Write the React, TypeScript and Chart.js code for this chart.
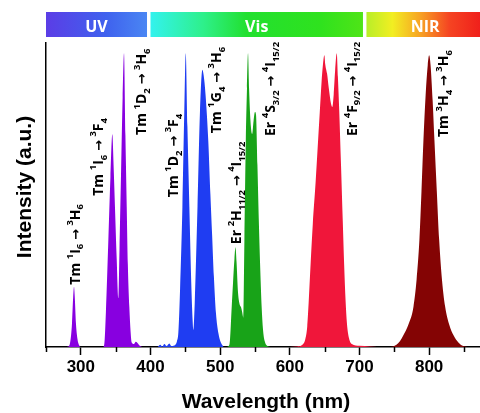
import React, { useEffect, useRef } from "react";
import { Chart, registerables } from "chart.js";

Chart.register(...registerables);

// ---------- data (wavelength in nm, intensity normalised) ----------
const tmUvWavelength = [280, 283.5, 286, 287.3, 289, 290.2, 291.3, 293, 295, 297.8, 300, 332, 333.7, 336, 339.5, 342.5, 345.2, 347, 349, 351.5, 353.8, 355.5, 357.7, 360, 362, 364, 365.9, 367.5, 369.6, 371.5, 373, 376, 379, 382, 385, 388];
const tmUvIntensity = [0, 0.005, 0.04, 0.08, 0.17, 0.205, 0.17, 0.08, 0.03, 0.005, 0, 0, 0.01, 0.12, 0.364, 0.58, 0.724, 0.62, 0.477, 0.3, 0.166, 0.33, 0.59, 0.85, 1.0, 0.72, 0.477, 0.28, 0.137, 0.05, 0.015, 0.01, 0.018, 0.012, 0.003, 0];

const tmBlueWavelength = [410, 414, 417, 420, 423, 427, 430, 434, 438, 440, 442.5, 445.8, 448.5, 450.6, 453, 455.8, 458.5, 460.5, 461.5, 463.5, 467.5, 471, 474.5, 476.3, 479, 483, 486, 488.5, 491, 494, 497.5, 501, 505];
const tmBlueIntensity = [0, 0.008, 0.002, 0.01, 0.003, 0.012, 0.003, 0.005, 0.02, 0.05, 0.2, 0.477, 0.8, 1.0, 0.75, 0.477, 0.22, 0.09, 0.058, 0.15, 0.48, 0.8, 0.944, 0.925, 0.86, 0.7, 0.52, 0.38, 0.24, 0.115, 0.047, 0.015, 0];

const erGreenWavelength = [510, 513.5, 516.6, 518.5, 520.5, 522, 523.5, 525.5, 527.5, 530, 531.5, 533.3, 534.8, 536.8, 538.5, 540, 541.5, 543.5, 546, 548, 550, 551.5, 553.5, 555.5, 557.5, 559.5, 561.5, 564, 567, 572];
const erGreenIntensity = [0, 0.01, 0.137, 0.22, 0.3, 0.34, 0.29, 0.19, 0.15, 0.135, 0.12, 0.1, 0.36, 0.7, 0.88, 1.0, 0.88, 0.77, 0.725, 0.77, 0.8, 0.79, 0.62, 0.43, 0.27, 0.14, 0.06, 0.02, 0.005, 0];

const erRedWavelength = [600, 610, 618, 622, 625, 627, 630, 633, 637, 640, 643, 645.5, 647.5, 649.6, 651, 653.5, 656, 659, 661, 663, 665, 667.4, 669, 671, 673.5, 676, 678, 680, 682, 685, 689, 700, 715, 725];
const erRedIntensity = [0, 0.002, 0.008, 0.025, 0.07, 0.15, 0.29, 0.42, 0.56, 0.68, 0.8, 0.9, 0.96, 0.993, 0.96, 0.93, 0.88, 0.83, 0.817, 0.86, 0.94, 1.0, 0.92, 0.8, 0.62, 0.43, 0.28, 0.16, 0.08, 0.03, 0.01, 0.004, 0.002, 0];

const tmNirWavelength = [740, 748, 753, 758, 763, 770, 777.5, 782, 786, 789, 791.8, 795, 798, 800, 802, 805, 807.6, 811, 814.4, 818, 823, 829, 835, 842, 848, 855];
const tmNirIntensity = [0, 0.002, 0.008, 0.02, 0.04, 0.075, 0.137, 0.23, 0.364, 0.53, 0.704, 0.86, 0.96, 0.993, 0.96, 0.84, 0.704, 0.53, 0.364, 0.24, 0.137, 0.075, 0.04, 0.015, 0.004, 0];

const xTickValues = [250, 300, 350, 400, 450, 500, 550, 600, 650, 700, 750, 800, 850];

const bandNames = ["UV", "Vis", "NIR"];
const bandStart = [250, 400, 710];
const bandEnd = [395, 705, 880];

const transitionTexts = [
  "Tm ^{1}I_{6} → ^{3}H_{6}",
  "Tm ^{1}I_{6} → ^{3}F_{4}",
  "Tm ^{1}D_{2} → ^{3}H_{6}",
  "Tm ^{1}D_{2} → ^{3}F_{4}",
  "Tm ^{1}G_{4} → ^{3}H_{6}",
  "Er ^{2}H_{11/2} → ^{4}I_{15/2}",
  "Er ^{4}S_{3/2} → ^{4}I_{15/2}",
  "Er ^{4}F_{9/2} → ^{4}I_{15/2}",
  "Tm ^{3}H_{4} → ^{3}H_{6}",
];
const transitionWavelength = [291, 324.7, 387, 432.5, 494.1, 522.8, 571.7, 689, 820.5];
const transitionIntensity = [0.212, 0.515, 0.722, 0.51, 0.728, 0.35, 0.718, 0.718, 0.715];

// ---------- helpers ----------
const toPoints = (xs: number[], ys: number[]) => xs.map((x, i) => ({ x, y: ys[i] }));

type Part = { t: string; k: "n" | "sup" | "sub" };
function parseRich(s: string): Part[] {
  const out: Part[] = [];
  const re = /\^\{([^}]*)\}|_\{([^}]*)\}|([^^_]+)/g;
  let m: RegExpExecArray | null;
  while ((m = re.exec(s))) {
    if (m[1] !== undefined) out.push({ t: m[1], k: "sup" });
    else if (m[2] !== undefined) out.push({ t: m[2], k: "sub" });
    else out.push({ t: m[3], k: "n" });
  }
  return out;
}

const bandGradients: [number, string][][] = [
  [[0, "#5b3de6"], [0.6, "#3f62ee"], [1, "#4a86f3"]],
  [[0, "#33f2ee"], [0.25, "#2ef08a"], [0.45, "#22e030"], [0.8, "#2fe21e"], [1, "#4fe417"]],
  [[0, "#b8ee28"], [0.22, "#f2ee22"], [0.45, "#f7a424"], [0.7, "#f54422"], [1, "#ef1a1a"]],
];

const MAIN_FONT = "bold 14px 'Open Sans', 'DejaVu Sans', sans-serif";
const SMALL_FONT = "bold 9.5px 'Open Sans', 'DejaVu Sans', sans-serif";
const ARROW_FONT = "bold 13px 'DejaVu Sans', sans-serif";

const overlayPlugin = {
  id: "overlay",
  afterDraw(chart: any) {
    const ctx: CanvasRenderingContext2D = chart.ctx;
    const xs = chart.scales.x;
    const ys = chart.scales.y;
    const area = chart.chartArea;

    // spectral region bars
    bandNames.forEach((name, i) => {
      const x0 = xs.getPixelForValue(bandStart[i]);
      const x1 = xs.getPixelForValue(bandEnd[i]);
      const g = ctx.createLinearGradient(x0, 0, x1, 0);
      bandGradients[i].forEach(([o, c]) => g.addColorStop(o, c));
      ctx.save();
      ctx.fillStyle = g;
      ctx.fillRect(x0, 12, x1 - x0, 25);
      ctx.fillStyle = "#ffffff";
      ctx.font = "bold 16px 'Open Sans'";
      ctx.textAlign = "center";
      ctx.textBaseline = "alphabetic";
      const cx = Math.min((x0 + x1) / 2, (x0 + 480) / 2 + 2);
      ctx.fillText(name, cx, 31.5);
      ctx.restore();
    });

    // minor ticks
    ctx.save();
    ctx.strokeStyle = "#000";
    ctx.lineWidth = 1.5;
    xTickValues.forEach((v) => {
      if (v % 100 !== 0) {
        const px = Math.round(xs.getPixelForValue(v)) + 0.5;
        ctx.beginPath();
        ctx.moveTo(px, area.bottom);
        ctx.lineTo(px, area.bottom + 5);
        ctx.stroke();
      }
    });
    ctx.restore();

    // transition labels
    transitionTexts.forEach((txt, i) => {
      const parts = parseRich(txt);
      const px = xs.getPixelForValue(transitionWavelength[i]);
      const py = ys.getPixelForValue(transitionIntensity[i]);
      ctx.save();
      ctx.translate(px, py);
      ctx.rotate(-Math.PI / 2);
      ctx.fillStyle = "#000";
      ctx.textAlign = "left";
      ctx.textBaseline = "alphabetic";
      let cx = 0;
      parts.forEach((p) => {
        if (p.k === "n") {
          if (p.t.includes("→")) {
            const [a, b] = p.t.split("→");
            ctx.font = MAIN_FONT;
            ctx.fillText(a, cx, 5);
            cx += ctx.measureText(a).width;
            ctx.font = ARROW_FONT;
            ctx.fillText("→", cx, 5);
            cx += ctx.measureText("→").width;
            ctx.font = MAIN_FONT;
            ctx.fillText(b, cx, 5);
            cx += ctx.measureText(b).width;
            return;
          }
          ctx.font = MAIN_FONT;
          ctx.fillText(p.t, cx, 5);
        } else if (p.k === "sup") {
          ctx.font = SMALL_FONT;
          ctx.fillText(p.t, cx, -1.8);
        } else {
          ctx.font = SMALL_FONT;
          ctx.fillText(p.t, cx, 8.6);
        }
        cx += ctx.measureText(p.t).width;
      });
      ctx.restore();
    });

    // axis titles
    ctx.save();
    ctx.fillStyle = "#000";
    ctx.font = "bold 21px 'Liberation Sans', Arial, sans-serif";
    ctx.textAlign = "center";
    ctx.textBaseline = "alphabetic";
    ctx.fillText("Wavelength (nm)", 266, 408);
    ctx.translate(30.5, 187);
    ctx.rotate(-Math.PI / 2);
    ctx.fillText("Intensity (a.u.)", 0, 0);
    ctx.restore();
  },
};

export default function App() {
  const ref = useRef<HTMLCanvasElement | null>(null);
  useEffect(() => {
    if (!ref.current) return;
    const mk = (label: string, xs: number[], ys: number[], color: string) => ({
      label,
      data: toPoints(xs, ys),
      backgroundColor: color,
      borderColor: color,
      borderWidth: 0,
      pointRadius: 0,
      fill: "origin",
      cubicInterpolationMode: "monotone" as const,
    });
    const chart = new Chart(ref.current, {
      type: "line",
      data: {
        datasets: [
          mk("Tm UV", tmUvWavelength, tmUvIntensity, "#8800e0"),
          mk("Tm blue", tmBlueWavelength, tmBlueIntensity, "#1f3df2"),
          mk("Er green", erGreenWavelength, erGreenIntensity, "#18a318"),
          mk("Er red", erRedWavelength, erRedIntensity, "#f0163a"),
          mk("Tm NIR", tmNirWavelength, tmNirIntensity, "#840404"),
        ],
      },
      options: {
        animation: false,
        responsive: false,
        layout: { padding: { top: 43, left: 0, right: 0, bottom: 0 } },
        plugins: { legend: { display: false }, tooltip: { enabled: false } },
        scales: {
          x: {
            type: "linear",
            min: 250,
            max: 873,
            afterBuildTicks: (s: any) => {
              s.ticks = xTickValues.map((v) => ({ value: v }));
            },
            afterFit: (s: any) => {
              s.height = 66;
            },
            grid: {
              display: true,
              drawOnChartArea: false,
              drawTicks: true,
              tickLength: 8,
              tickWidth: 1.5,
              tickColor: (c: any) => (c.tick && c.tick.value % 100 === 0 ? "#000" : "rgba(0,0,0,0)"),
            },
            border: { display: true, color: "#000", width: 1.5 },
            ticks: {
              autoSkip: false,
              maxRotation: 0,
              padding: 2,
              color: "#000",
              font: { family: "'Liberation Sans', Arial, sans-serif", size: 17, weight: "bold" },
              callback: (v: any) => (Number(v) % 100 === 0 ? String(v) : ""),
            },
          },
          y: {
            min: 0,
            max: 1.035,
            afterFit: (s: any) => {
              s.width = 46;
            },
            grid: { display: false, drawTicks: false },
            border: { display: true, color: "#000", width: 1.5 },
            ticks: { display: false },
          },
        },
      },
      plugins: [overlayPlugin],
    });
    return () => chart.destroy();
  }, []);
  return (
    <canvas
      ref={ref}
      width={480}
      height={413}
      style={{ position: "fixed", left: 0, top: 0, width: 480, height: 413, background: "#fff" }}
    />
  );
}
